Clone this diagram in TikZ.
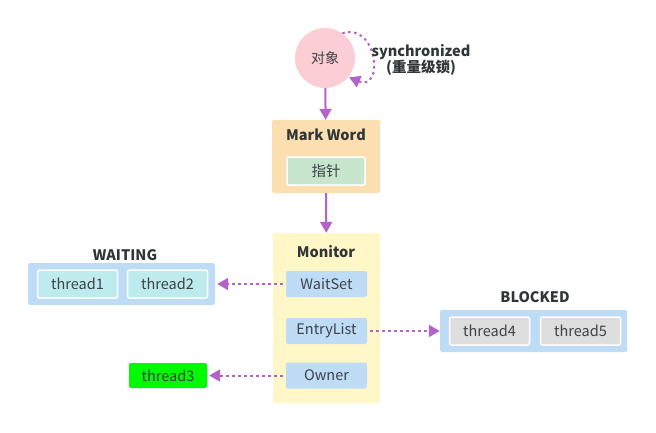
\documentclass[tikz,border=0pt]{standalone}
\usepackage{fontspec}
\setmainfont{Noto Sans CJK SC}
\usetikzlibrary{arrows.meta}

\definecolor{pinkc}{RGB}{251,205,213}
\definecolor{orangec}{RGB}{252,223,176}
\definecolor{greenc}{RGB}{200,230,205}
\definecolor{yellowc}{RGB}{255,247,200}
\definecolor{bluec}{RGB}{190,220,245}
\definecolor{cyanc}{RGB}{190,235,238}
\definecolor{grayc}{RGB}{222,222,222}
\definecolor{limec}{RGB}{0,250,0}
\definecolor{arrowc}{RGB}{178,98,200}
\definecolor{textc}{RGB}{60,66,70}

\tikzset{
  box/.style={rounded corners=2pt, inner sep=0pt, text=textc,
    font=\fontsize{14.5}{14.5}\selectfont},
  field/.style={box, fill=bluec, minimum width=81, minimum height=26},
  thread/.style={box, draw=white, line width=1.5pt, minimum width=80, minimum height=28},
  title/.style={text=textc!80!black, font=\fontsize{14.5}{16}\selectfont\bfseries},
  link/.style={arrowc, line width=2pt, -{Triangle[length=11pt,width=12pt]}},
  dots/.style={link, dash pattern=on 2.5pt off 3.5pt}
}

\begin{document}
\begin{tikzpicture}[x=1pt,y=-1pt]
\useasboundingbox (0,0) rectangle (656,432);

% Objeto
\node[circle, fill=pinkc, minimum size=60, inner sep=0pt, text=textc,
  font=\fontsize{14}{14}\selectfont] (obj) at (325,58) {对象};
\draw[dots] (obj.55) .. controls (378,22) and (384,92) .. ([xshift=1pt]obj.-40);
\node[title, align=center] (sync) at (421,60) {synchronized\\(重量级锁)};

% Mark Word
\node[box, fill=orangec, minimum width=108, minimum height=73] (mark) at (326,156.5) {};
\node[title] (markt) at (326,135) {Mark Word};
\node[box, fill=greenc, draw=white, line width=1.5pt, minimum width=78,
  minimum height=28] (ptr) at (326,171) {指针};
\draw[link] (obj) -- (mark);

% Monitor
\node[box, fill=yellowc, minimum width=107, minimum height=170] (mon) at (326.5,318) {};
\node[title] (mont) at (326,252) {Monitor};
\node[field] (wait) at (326.5,284) {WaitSet};
\node[field] (entry) at (326.5,331) {EntryList};
\node[field] (owner) at (326.5,375.5) {Owner};
\draw[link] (mark) -- (mon);

% WAITING
\node[box, fill=bluec, minimum width=187, minimum height=42] (waitgrp) at (121.5,284) {};
\node[title] (waitt) at (125,255) {WAITING};
\node[thread, fill=cyanc] (t1) at (77.5,284) {thread1};
\node[thread, fill=cyanc] (t2) at (167.5,284) {thread2};
\draw[dots] ([xshift=-3pt]wait.west) -- ([xshift=2pt]waitgrp.east);

% BLOCKED
\node[box, fill=bluec, minimum width=187, minimum height=42] (blkgrp) at (533.5,331) {};
\node[title] (blkt) at (535,297) {BLOCKED};
\node[thread, fill=grayc] (t4) at (489.5,331) {thread4};
\node[thread, fill=grayc] (t5) at (580.5,331) {thread5};
\draw[dots] ([xshift=3pt]entry.east) -- (blkgrp.west);

% Owner
\node[box, fill=limec, minimum width=78, minimum height=25] (t3) at (168,375.5) {thread3};
\draw[dots] ([xshift=-3pt]owner.west) -- ([xshift=2pt]t3.east);

\end{tikzpicture}
\end{document}
